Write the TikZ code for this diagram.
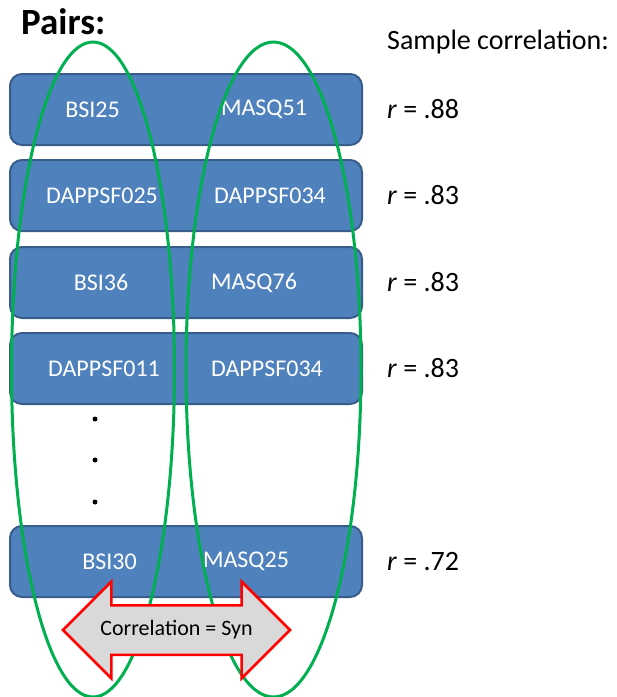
\documentclass[tikz,border=0pt]{standalone}
\usepackage{fontspec}
\setmainfont{Carlito}
\usepackage{xcolor}
\usepackage{tikz}
\usetikzlibrary{shapes.geometric,shapes.arrows,positioning}

\definecolor{pairblue}{HTML}{4F81BD}
\definecolor{pairedge}{HTML}{385D8A}
\definecolor{setgreen}{HTML}{00B050}
\definecolor{arrowgray}{HTML}{D9D9D9}

\begin{document}
\begin{tikzpicture}[
    x=1pt, y=-1pt,
    pairrow/.style={rectangle, draw=pairedge, line width=2pt, fill=pairblue, rounded corners=12pt, minimum width=352pt, minimum height=71pt},
    item/.style={text=white, font=\fontsize{24}{28}\selectfont, inner sep=0pt},
    corr/.style={anchor=west, font=\fontsize{28}{32}\selectfont, inner sep=0pt},
    pairset/.style={ellipse, draw=setgreen, line width=3pt, inner sep=0pt},
    dot/.style={circle, fill=black, inner sep=0pt, minimum size=5pt}
]
    \useasboundingbox (0,0) rectangle (617,697);

    % --- Headings ---
    \node[anchor=west, font=\bfseries\fontsize{37}{40}\selectfont, inner sep=0pt] (pairs) at (21,22) {Pairs:};
    \node[corr] (sample) at (387,42) {Sample correlation:};

    % --- Pair rows ---
    \node[pairrow] (row1) at (186,109.5) {};
    \node[pairrow] (row2) at (186,195.5) {};
    \node[pairrow] (row3) at (186,282.5) {};
    \node[pairrow] (row4) at (186,368.5) {};
    \node[pairrow] (row5) at (186,561.5) {};

    \node[item] (a1) at (92.5,109.5) {BSI25};
    \node[item] (b1) at (264,109.5) {MASQ51};
    \node[item] (a2) at (102,195.5) {DAPPSF025};
    \node[item] (b2) at (270,195.5) {DAPPSF034};
    \node[item] (a3) at (101,282.5) {BSI36};
    \node[item] (b3) at (254,282.5) {MASQ76};
    \node[item] (a4) at (104,368.5) {DAPPSF011};
    \node[item] (b4) at (267,368.5) {DAPPSF034};
    \node[item] (a5) at (109.5,561.5) {BSI30};
    \node[item] (b5) at (246,561.5) {MASQ25};

    % Dots between rows
    \node[dot] (d1) at (95,419) {};
    \node[dot] (d2) at (95,460) {};
    \node[dot] (d3) at (95,502) {};

    % --- Correlations ---
    \node[corr] (r1) at (387,109.5) {\textit{r} = .88};
    \node[corr] (r2) at (387,195.5) {\textit{r} = .83};
    \node[corr] (r3) at (387,282.5) {\textit{r} = .83};
    \node[corr] (r4) at (387,368.5) {\textit{r} = .83};
    \node[corr] (r5) at (387,561.5) {\textit{r} = .72};

    % --- Variable sets ---
    \node[pairset, minimum width=163pt, minimum height=655pt] (leftset) at (93,369.5) {};
    \node[pairset, minimum width=175pt, minimum height=655pt] (rightset) at (273.5,369.5) {};

    % Synonym arrow
    \node[double arrow, draw=red, line width=2.5pt, fill=arrowgray, minimum height=227pt,
          double arrow head extend=23.5pt, double arrow tip angle=90,
          text height=14pt, text depth=4pt, inner ysep=14.5pt, inner xsep=0pt,
          font=\fontsize{22}{26}\selectfont] (syn) at (176.5,630) {Correlation = Syn};

\end{tikzpicture}
\end{document}
